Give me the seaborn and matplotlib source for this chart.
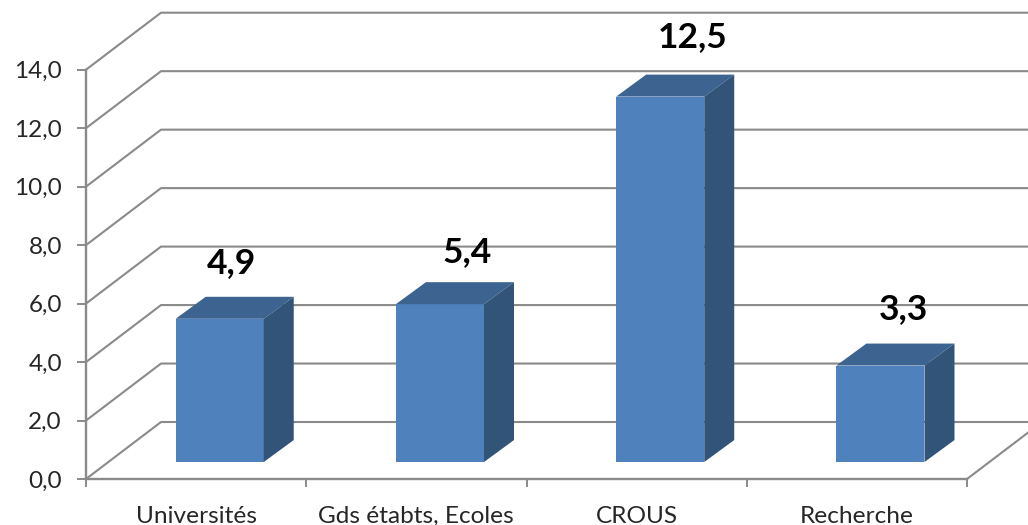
import matplotlib
matplotlib.use("Agg")
import matplotlib.pyplot as plt
from matplotlib.patches import Polygon
import seaborn as sns

categories = ["Universités", "Gds étabts, Ecoles", "CROUS", "Recherche"]
values = [4.9, 5.4, 12.5, 3.3]
y_ticks = [0, 2, 4, 6, 8, 10, 12, 14]

GRID = "#8a8a8a"
FRONT = "#4f81bd"
TOP = "#3d6491"
SIDE = "#325479"

sns.set_style("white")
plt.rcParams["font.family"] = ["Lato", "DejaVu Sans"]

W, H = 1028, 525
fig = plt.figure(figsize=(W / 100, H / 100), dpi=100)
# plot box in pixels: x 86-967, y 69.7-479
ax = fig.add_axes([86 / W, (H - 479) / H, 881 / W, 409.3 / H])

sns.barplot(x=categories, y=values, color=FRONT, saturation=1, width=0.4,
            errorbar=None, ax=ax, zorder=3)
ax.set_xlim(-0.5, 3.5)
ax.set_ylim(0, 14)

# depth of the 3d box and of the bars, in data units
wall_dx, wall_dy = 75 / 220.25, 57 / 29.24
bar_dx, bar_dy = 30 / 220.25, 22 / 29.24
bar_shift, bar_base = 0.107, 0.58

# walls
for v in y_ticks:
    ax.plot([-0.5, -0.5 + wall_dx, 3.5 + wall_dx], [v, v + wall_dy, v + wall_dy],
            color=GRID, lw=1.5, clip_on=False, zorder=1)
ax.plot([3.5, 3.5 + wall_dx], [0, wall_dy], color=GRID, lw=1.5, clip_on=False, zorder=1)

# move the bars onto the floor and add the top and side faces
label_shift = [(12, 56), (27, 52), (32, 60), (23, 57)]
for p, v, (sx, sy) in zip(ax.patches, values, label_shift):
    p.set_x(p.get_x() + bar_shift)
    p.set_y(bar_base)
    p.set_linewidth(0)
    p.set_clip_on(False)
    x0, x1 = p.get_x(), p.get_x() + p.get_width()
    y0, y1 = bar_base, bar_base + v
    ax.add_patch(Polygon([(x0, y1), (x1, y1), (x1 + bar_dx, y1 + bar_dy), (x0 + bar_dx, y1 + bar_dy)],
                         fc=TOP, lw=0, zorder=3, clip_on=False))
    ax.add_patch(Polygon([(x1, y0), (x1 + bar_dx, y0 + bar_dy), (x1 + bar_dx, y1 + bar_dy), (x1, y1)],
                         fc=SIDE, lw=0, zorder=3, clip_on=False))
    ax.annotate(f"{v:.1f}".replace(".", ","), xy=((x0 + x1) / 2, y1), xytext=(sx * 0.72, sy * 0.72),
                textcoords="offset points", ha="center", va="center",
                fontsize=25.5, fontweight="bold", color="black", annotation_clip=False)

# axes
for s in ["top", "right"]:
    ax.spines[s].set_visible(False)
for s in ["left", "bottom"]:
    ax.spines[s].set_color(GRID)
    ax.spines[s].set_linewidth(1.7)
    ax.spines[s].set_zorder(2)

ax.set_yticks(y_ticks)
ax.set_yticklabels([f"{v:.1f}".replace(".", ",") for v in y_ticks])
ax.tick_params(axis="y", left=True, length=6.5, width=1.4, color=GRID, labelsize=17.5, pad=10.8)

ax.set_xticks([-0.5, 0.5, 1.5, 2.5, 3.5])
ax.set_xticklabels([])
ax.set_xticks(range(len(categories)), labels=categories, minor=True)
ax.tick_params(axis="x", which="major", bottom=True, length=6, width=1.4, color=GRID)
ax.tick_params(axis="x", which="minor", bottom=False, length=0, labelsize=17.6, pad=31.5)
for lab in ax.get_xticklabels(minor=True):
    lab.set_verticalalignment("baseline")
ax.set_xlabel("")
ax.set_ylabel("")

fig.savefig("out.png", dpi=100, facecolor="white")
